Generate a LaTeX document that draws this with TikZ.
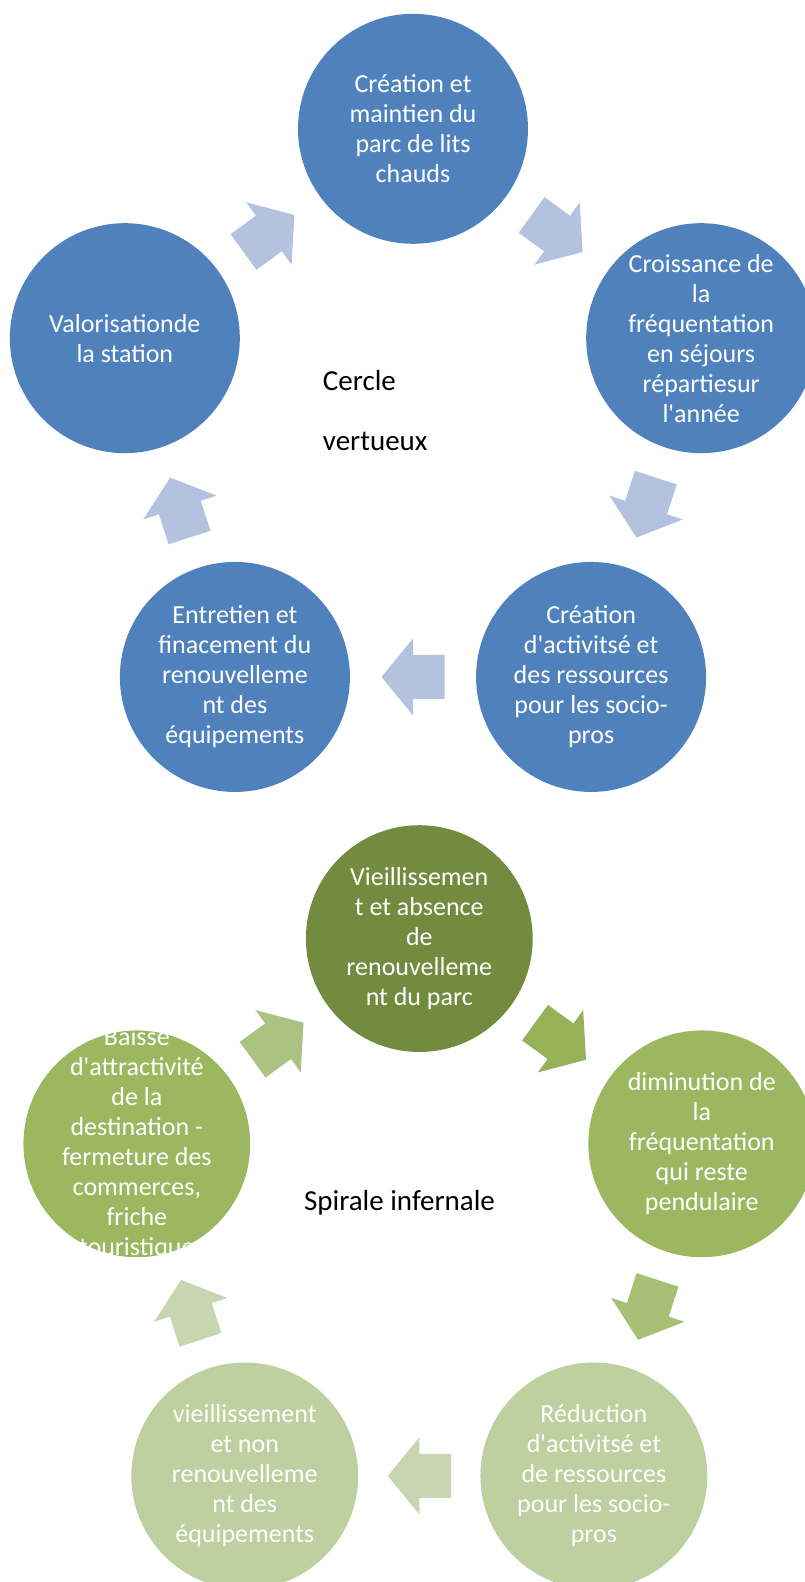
\documentclass[tikz,border=0pt]{standalone}
\usepackage{fontspec}
\setmainfont{Carlito}
\usetikzlibrary{calc}
\definecolor{cycleblue}{RGB}{79,129,189}
\definecolor{arrowblue}{RGB}{179,194,222}
\definecolor{olivedark}{RGB}{114,139,63}
\definecolor{olivemid}{RGB}{155,183,96}
\definecolor{olivelight}{RGB}{190,207,160}
\definecolor{arrowolive1}{RGB}{149,178,88}
\definecolor{arrowolive2}{RGB}{166,192,117}
\definecolor{arrowolive3}{RGB}{199,214,176}
\definecolor{arrowolive5}{RGB}{170,195,131}
\newcommand{\apos}{\textquotesingle}
\tikzset{
  bluecirc/.style={circle,fill=cycleblue,minimum size=230pt,inner sep=0pt},
  olivecirc/.style={circle,minimum size=226.8pt,inner sep=0pt},
  circtext/.style={text=white,align=center,inner sep=0pt,
    font=\fontsize{26}{30}\selectfont},
  centrelabel/.style={inner sep=0pt,anchor=base west,font=\fontsize{29}{35}\selectfont},
  pics/cyclearrow/.style={code={
    \fill[#1] (-31.5,-22) -- (0,-22) -- (0,-38.5) -- (31.5,0) -- (0,38.5)
      -- (0,22) -- (-31.5,22) -- cycle;}}
}

\begin{document}
\begin{tikzpicture}[x=1pt,y=1pt]
  \useasboundingbox (0,0) rectangle (805,-1582);
  % cercle vertueux
  \coordinate (vc) at (413,-431.8);
  \node[bluecirc] (v1) at ($(vc)+(90:303)$) {};
  \node[bluecirc] (v2) at ($(vc)+(18:303)$) {};
  \node[bluecirc] (v3) at ($(vc)+(-54:303)$) {};
  \node[bluecirc] (v4) at ($(vc)+(-126:303)$) {};
  \node[bluecirc] (v5) at ($(vc)+(162:303)$) {};
  \node[circtext] (v1t) at (v1) {Création et\\maintien du\\parc de lits\\chauds};
  \node[circtext] (v2t) at (v2) {Croissance de\\la\\fréquentation\\en séjours\\répartiesur\\l\apos année};
  \node[circtext] (v3t) at (v3) {Création\\d\apos activitsé et\\des ressources\\pour les socio-\\pros};
  \node[circtext] (v4t) at (v4) {Entretien et\\finacement du\\renouvelleme\\nt des\\équipements};
  \node[circtext] (v5t) at (v5) {Valorisationde\\la station};
  \pic[rotate=-36] at ($(v1)!0.5!(v2)$) {cyclearrow=arrowblue};
  \pic[rotate=-108] at ($(v2)!0.5!(v3)$) {cyclearrow=arrowblue};
  \pic[rotate=180] at ($(v3)!0.5!(v4)$) {cyclearrow=arrowblue};
  \pic[rotate=108] at ($(v4)!0.5!(v5)$) {cyclearrow=arrowblue};
  \pic[rotate=36] at ($(v5)!0.5!(v1)$) {cyclearrow=arrowblue};
  \node[centrelabel] (vlab1) at (322.7,-390.7) {Cercle};
  \node[centrelabel] (vlab2) at ([yshift=-59.3pt]vlab1.base west) {vertueux};

  % spirale infernale
  \coordinate (sc) at (419.3,-1235.6);
  \node[olivecirc,fill=olivedark] (s1) at ($(sc)+(90:297)$) {};
  \node[olivecirc,fill=olivemid] (s2) at ($(sc)+(18:297)$) {};
  \node[olivecirc,fill=olivelight] (s3) at ($(sc)+(-54:297)$) {};
  \node[olivecirc,fill=olivelight] (s4) at ($(sc)+(-126:297)$) {};
  \node[olivecirc,fill=olivemid] (s5) at ($(sc)+(162:297)$) {};
  \node[circtext] (s1t) at (s1) {Vieillissemen\\t et absence\\de\\renouvelleme\\nt du parc};
  \node[circtext] (s2t) at (s2) {diminution de\\la\\fréquentation\\qui reste\\pendulaire};
  \node[circtext] (s3t) at (s3) {Réduction\\d\apos activitsé et\\de ressources\\pour les socio-\\pros};
  \node[circtext] (s4t) at (s4) {vieillissement\\et non\\renouvelleme\\nt des\\équipements};
  \node[circtext] (s5t) at (s5) {Baisse\\d\apos attractivité\\de la\\destination -\\fermeture des\\commerces,\\friche\\touristique};
  \pic[rotate=-36] at ($(s1)!0.5!(s2)$) {cyclearrow=arrowolive1};
  \pic[rotate=-108] at ($(s2)!0.5!(s3)$) {cyclearrow=arrowolive2};
  \pic[rotate=180] at ($(s3)!0.5!(s4)$) {cyclearrow=arrowolive3};
  \pic[rotate=108] at ($(s4)!0.5!(s5)$) {cyclearrow=arrowolive3};
  \pic[rotate=36] at ($(s5)!0.5!(s1)$) {cyclearrow=arrowolive5};
  \node[centrelabel] (slab) at (303.9,-1210.2) {Spirale infernale};
\end{tikzpicture}
\end{document}
